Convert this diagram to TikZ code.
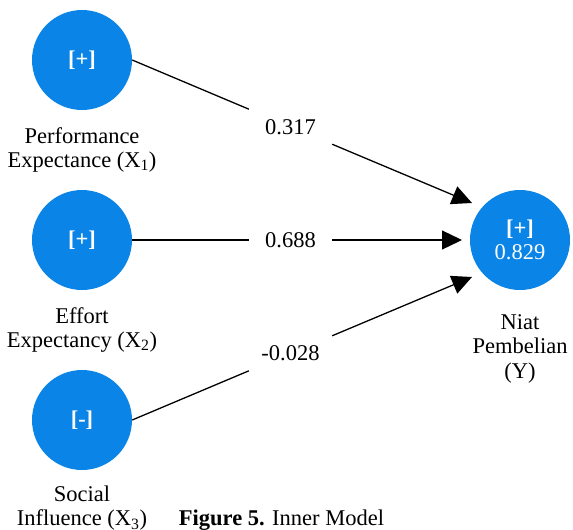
\documentclass[tikz,border=0pt]{standalone}
\usepackage{fontspec}
\setmainfont{Liberation Serif}
\usetikzlibrary{arrows.meta}
\definecolor{plsblue}{HTML}{0A84E6}
\begin{document}
\begin{tikzpicture}[x=1pt,y=-1pt,
  txt/.style={font=\fontsize{22.5}{24.5}\selectfont, text=black},
  lv/.style={circle, fill=plsblue, minimum size=100pt, inner sep=0pt,
             font=\fontsize{22.5}{24.5}\selectfont, text=white, align=center},
  lab/.style={txt, minimum width=83pt, minimum height=40pt, inner sep=0pt},
  lvname/.style={txt, align=center, inner sep=0pt, anchor=north},
  conn/.style={line width=1.3pt},
  arr/.style={conn, -{Triangle[length=20pt,width=19pt]}}]
\useasboundingbox (0,0) rectangle (573,530);
% latent variables
\node[lv] (X1) at (82,60) {\textbf{[+]}};
\node[lv] (X2) at (82,240) {\textbf{[+]}};
\node[lv] (X3) at (82,420) {\textbf{[-]}};
\node[lv] (Y) at (520,240) {\textbf{[+]}\\0.829};
% names
\node[lvname] (nX1) at (82,127) {Performance\\Expectance (X\textsubscript{1})};
\node[lvname] (nX2) at (82,307) {Effort\\Expectancy (X\textsubscript{2})};
\node[lvname] (nX3) at (82,485.5) {Social\\Influence (X\textsubscript{3})};
\node[lvname] (nY) at (520,314) {Niat\\Pembelian\\(Y)};
% arrow ends
\coordinate (t1) at (472,203);
\coordinate (t2) at (462,240);
\coordinate (t3) at (472,277);
% path coefficients
\node[lab] (l1) at (290.5,126.7) {0.317};
\node[lab] (l2) at (290.5,240) {0.688};
\node[lab] (l3) at (290.5,353.3) {-0.028};
\draw[conn] (X1.east) -- (l1);
\draw[arr] (l1) -- (t1);
\draw[conn] (X2.east) -- (l2);
\draw[arr] (l2) -- (t2);
\draw[conn] (X3.east) -- (l3);
\draw[arr] (l3) -- (t3);
% caption
\node[txt, anchor=base, inner sep=0pt] (caption) at (281.5,525.5) {\textbf{Figure 5.} Inner Model};
\end{tikzpicture}
\end{document}
